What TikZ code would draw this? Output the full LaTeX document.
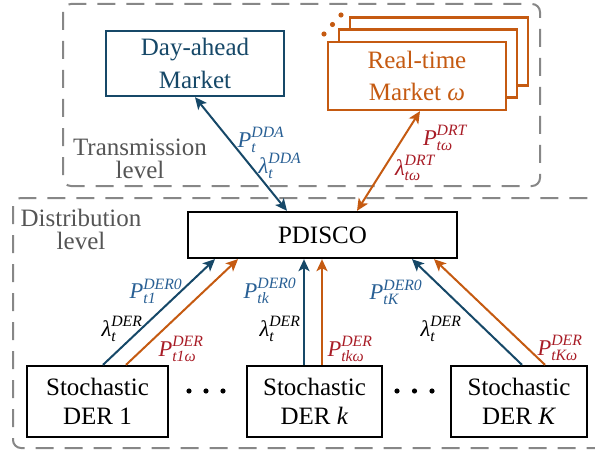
\documentclass[tikz,border=0pt]{standalone}
\usepackage{amsmath}
\usepackage{fontspec}
\setmainfont{Liberation Serif}
\usetikzlibrary{arrows.meta}
\definecolor{dblue}{RGB}{22,72,104}
\definecolor{lblue}{RGB}{40,95,148}
\definecolor{orng}{RGB}{197,90,17}
\definecolor{dred}{RGB}{168,28,38}
\definecolor{dgray}{RGB}{135,135,135}
\definecolor{tgray}{RGB}{85,85,85}
\newcommand{\ivar}[1]{\textit{#1}}
\tikzset{
  box/.style={draw, line width=2.3pt, fill=white, inner sep=0pt, align=center,
    font=\fontsize{25}{33}\selectfont},
  grp/.style={draw=dgray, line width=2pt, dash pattern=on 18pt off 11pt, rounded corners=8pt},
  arr/.style={line width=2pt, -{Stealth[length=12pt,width=11pt,inset=3pt]}},
  darr/.style={line width=2pt, {Stealth[length=12pt,width=11pt,inset=3pt]}-{Stealth[length=12pt,width=11pt,inset=3pt]}},
  lab/.style={font=\fontsize{22.5}{26}\selectfont, inner sep=0pt},
  lvl/.style={text=tgray, align=center, font=\fontsize{25}{23}\selectfont, inner sep=0pt},
}
\begin{document}
\begin{tikzpicture}[x=1pt,y=-1pt]
\useasboundingbox (0,0) rectangle (595,452);
\clip (0,0) rectangle (595,452);
% group frames
\draw[grp] (63,4) rectangle (540,186);
\draw[grp] (13,198) rectangle (625,448);
\node[lvl] (tl) at (140,159) {Transmission\\level};
\node[lvl] (dl) at (81,229.5) {Distribution\\level};
% markets
\node[box, draw=dblue, text=dblue, minimum width=178pt, minimum height=65pt] (da) at (195,63.5) {Day-ahead\\Market};
\node[box, draw=orng, minimum width=178pt, minimum height=68pt] (rt3) at (439,51.5) {};
\node[box, draw=orng, minimum width=178pt, minimum height=68pt] (rt2) at (428,63.5) {};
\node[box, draw=orng, text=orng, minimum width=178pt, minimum height=68pt, font=\fontsize{25}{32}\selectfont] (rt) at (417,76) {Real-time\\Market \textit{ω}};
\fill[orng] (324,34) circle (2.6) (332.5,24.5) circle (2.6) (341,15) circle (2.6);
% PDISCO and DERs
\node[box, minimum width=269pt, minimum height=46pt] (pd) at (322.5,235) {PDISCO};
\node[box, minimum width=141pt, minimum height=71pt, font=\fontsize{25}{29}\selectfont] (d1) at (97.5,401.5) {Stochastic\\DER 1};
\node[box, minimum width=135pt, minimum height=71pt, font=\fontsize{25}{29}\selectfont] (dk) at (314.5,401.5) {Stochastic\\DER \textit{k}};
\node[box, minimum width=136pt, minimum height=71pt, font=\fontsize{25}{29}\selectfont] (dK) at (519,401.5) {Stochastic\\DER \textit{K}};
\fill (189,391) circle (2.6) (206,391) circle (2.6) (223,391) circle (2.6);
\fill (397,391) circle (2.6) (414.5,391) circle (2.6) (432,391) circle (2.6);
% connectors
\draw[darr, dblue] (da.south) -- ([xshift=-35.5pt]pd.north);
\draw[darr, orng] ([xshift=3pt]rt.south) -- ([xshift=34.5pt]pd.north);
\draw[arr, dblue] ([xshift=5.5pt]d1.north) -- ([xshift=-107.5pt]pd.south);
\draw[arr, orng] ([xshift=28.5pt]d1.north) -- ([xshift=-84.5pt]pd.south);
\draw[arr, dblue] ([xshift=-10.5pt]dk.north) -- ([xshift=-18.5pt]pd.south);
\draw[arr, orng] ([xshift=7.5pt]dk.north) -- ([xshift=-0.5pt]pd.south);
\draw[arr, dblue] ([xshift=3pt]dK.north) -- ([xshift=89.5pt]pd.south);
\draw[arr, orng] ([xshift=26pt]dK.north) -- ([xshift=111.5pt]pd.south);
% labels
\node[lab, text=lblue] (l1) at (261,140) {$\ivar{P}_{\ivar{t}}^{\ivar{DDA}}$};
\node[lab, text=lblue] (l2) at (280,166) {$\ivar{λ}_{\ivar{t}}^{\ivar{DDA}}$};
\node[lab, text=dred] (l3) at (445,138) {$\ivar{P}_{\ivar{tω}}^{\ivar{DRT}}$};
\node[lab, text=dred] (l4) at (415,168) {$\ivar{λ}_{\ivar{tω}}^{\ivar{DRT}}$};
\node[lab, text=lblue] (l5) at (156,291) {$\ivar{P}_{\ivar{t1}}^{\ivar{DER0}}$};
\node[lab] (l6) at (122,329) {$\ivar{λ}_{\ivar{t}}^{\ivar{DER}}$};
\node[lab, text=dred] (l7) at (181,349) {$\ivar{P}_{\ivar{t1ω}}^{\ivar{DER}}$};
\node[lab, text=lblue] (l8) at (270,291) {$\ivar{P}_{\ivar{tk}}^{\ivar{DER0}}$};
\node[lab] (l9) at (280,329) {$\ivar{λ}_{\ivar{t}}^{\ivar{DER}}$};
\node[lab, text=dred] (l10) at (350,349) {$\ivar{P}_{\ivar{tkω}}^{\ivar{DER}}$};
\node[lab, text=lblue] (l11) at (396,292) {$\ivar{P}_{\ivar{tK}}^{\ivar{DER0}}$};
\node[lab] (l12) at (441,329) {$\ivar{λ}_{\ivar{t}}^{\ivar{DER}}$};
\node[lab, text=dred] (l13) at (560,348) {$\ivar{P}_{\ivar{tKω}}^{\ivar{DER}}$};
\end{tikzpicture}
\end{document}
